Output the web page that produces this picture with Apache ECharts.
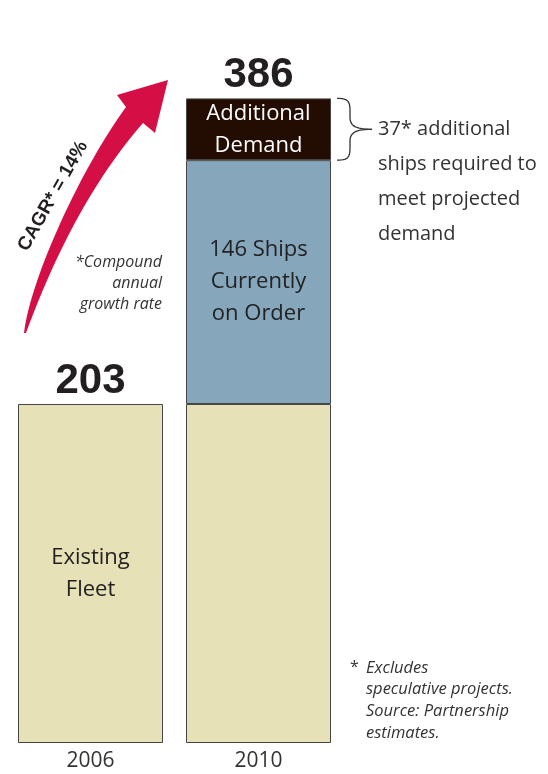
<!DOCTYPE html>
<html>
<head>
<meta charset="utf-8">
<script src="https://cdn.jsdelivr.net/npm/echarts@6/dist/echarts.min.js"></script>
<style>
html,body{margin:0;padding:0;background:#fff;}
#c{width:548px;height:774px;}
</style>
</head>
<body>
<div id="c"></div>
<script>
// ---- data ----
var categories = ['2006', '2010'];
var existingFleet = [203, 203];
var onOrder = [null, 146];
var additionalDemand = [null, 37];
var existingLabels = ['Existing\nFleet', ''];
var cagrText = 'CAGR* = 14%';
var cagrNote = '*Compound\nannual\ngrowth rate';
var braceNote = '37* additional\nships required to\nmeet projected\ndemand';
var footNote = 'Excludes\nspeculative projects.\nSource: Partnership\nestimates.';

var totals = categories.map(function (c, i) {
  return (existingFleet[i] || 0) + (onOrder[i] || 0) + (additionalDemand[i] || 0);
});

var FONT = '"Open Sans", "Noto Sans", sans-serif';
var chart = echarts.init(document.getElementById('c'), null, {renderer: 'canvas'});

var border = {borderColor: '#454545', borderWidth: 1};

var option = {
  animation: false,
  backgroundColor: '#ffffff',
  grid: {left: 6.5, right: 205.5, top: 41.6, bottom: 31},
  xAxis: {
    type: 'category',
    data: categories,
    axisLine: {show: false},
    axisTick: {show: false},
    axisLabel: {color: '#333', fontSize: 21, fontFamily: FONT, margin: 8}
  },
  yAxis: {
    type: 'value', min: 0, max: 420,
    show: false, splitLine: {show: false}
  },
  series: [
    {
      name: 'Existing Fleet', type: 'bar', stack: 'a', barWidth: 145,
      data: existingFleet,
      itemStyle: Object.assign({color: '#E6E1B7'}, border),
      label: {
        show: true, position: 'inside', color: '#222', fontSize: 22, lineHeight: 32,
        fontFamily: FONT,
        formatter: function (p) { return existingLabels[p.dataIndex]; }
      }
    },
    {
      name: 'On Order', type: 'bar', stack: 'a', barWidth: 145,
      data: onOrder,
      itemStyle: Object.assign({color: '#86A6BB'}, border),
      label: {
        show: true, position: 'inside', color: '#222', fontSize: 22, lineHeight: 32,
        fontFamily: FONT,
        formatter: function (p) { return p.value + ' Ships\nCurrently\non Order'; }
      }
    },
    {
      name: 'Additional Demand', type: 'bar', stack: 'a', barWidth: 145,
      data: additionalDemand,
      itemStyle: Object.assign({color: '#230D02'}, border),
      label: {
        show: true, position: 'inside', color: '#fff', fontSize: 22, lineHeight: 32,
        fontFamily: FONT,
        formatter: 'Additional\nDemand'
      }
    },
    {
      name: 'Total', type: 'scatter', symbolSize: 0,
      data: totals,
      z: 10,
      itemStyle: {opacity: 1},
      label: {
        show: true, position: 'top', distance: 2,
        color: '#231f20', fontSize: 42, fontWeight: 'bold', lineHeight: 42,
        fontFamily: 'Arial, "Liberation Sans", sans-serif',
        formatter: function (p) { return String(p.value); }
      }
    }
  ]
};
chart.setOption(option);

// bezier sampling helpers for decorations
function quad(p0, c, p1, n) {
  var pts = [];
  for (var k = 0; k <= n; k++) {
    var t = k / n, u = 1 - t;
    pts.push([u * u * p0[0] + 2 * u * t * c[0] + t * t * p1[0],
              u * u * p0[1] + 2 * u * t * c[1] + t * t * p1[1]]);
  }
  return pts;
}
function cubic(p0, c1, c2, p1, n) {
  var pts = [];
  for (var k = 0; k <= n; k++) {
    var t = k / n, u = 1 - t;
    pts.push([u*u*u*p0[0] + 3*u*u*t*c1[0] + 3*u*t*t*c2[0] + t*t*t*p1[0],
              u*u*u*p0[1] + 3*u*u*t*c1[1] + 3*u*t*t*c2[1] + t*t*t*p1[1]]);
  }
  return pts;
}

// arrow outline
var arrowPts = cubic([24, 333], [30, 280], [80, 170], [126, 107], 30)
  .concat([[117, 95], [168, 80], [155, 133]])
  .concat(quad([143, 123], [74, 202], [26, 333], 30));

// brace positioned from the data through the chart's scales
var i2 = 1;
var topPx = chart.convertToPixel({gridIndex: 0}, [i2, totals[i2]]);
var segBottom = chart.convertToPixel({gridIndex: 0}, [i2, totals[i2] - additionalDemand[i2]]);
var yT = topPx[1], yB = segBottom[1], yM = (yT + yB) / 2;
var x0 = topPx[0] + 145 / 2 + 6;
var bx = x0 + 13, tipX = x0 + 35;
var r = Math.min(12, (yB - yT) / 4);
var braceTop = cubic([x0, yT], [x0 + 10, yT], [bx, yT + 2], [bx, yT + r], 12)
  .concat([[bx, yM - r]])
  .concat(cubic([bx, yM - r], [bx, yM - 3], [bx + 6, yM], [tipX, yM], 12));
var braceBottom = cubic([tipX, yM], [bx + 6, yM], [bx, yM + 3], [bx, yM + r], 12)
  .concat([[bx, yB - r]])
  .concat(cubic([bx, yB - r], [bx, yB - 2], [x0 + 10, yB], [x0, yB], 12));

chart.setOption({
  graphic: [
    {
      type: 'polygon', z: 5,
      shape: {points: arrowPts},
      style: {fill: '#D30F45'}
    },
    {
      type: 'text', x: 53, y: 196, rotation: 60.6 * Math.PI / 180, z: 6,
      style: {
        text: cagrText, fill: '#231f20', font: 'bold 19px Arial, "Liberation Sans", sans-serif',
        align: 'center', verticalAlign: 'middle'
      }
    },
    {
      type: 'text', x: 162, y: 251.5, z: 6,
      style: {
        text: cagrNote, fill: '#333', fontFamily: FONT, fontSize: 16, fontStyle: 'italic',
        lineHeight: 21, align: 'right', verticalAlign: 'top'
      }
    },
    {
      type: 'polyline', z: 6,
      shape: {points: braceTop},
      style: {fill: null, stroke: '#333', lineWidth: 1.3}
    },
    {
      type: 'polyline', z: 6,
      shape: {points: braceBottom},
      style: {fill: null, stroke: '#333', lineWidth: 1.3}
    },
    {
      type: 'text', x: tipX + 6, y: yM - 17.5, z: 6,
      style: {
        text: braceNote, fill: '#333', fontFamily: FONT, fontSize: 20,
        lineHeight: 35, align: 'left', verticalAlign: 'top'
      }
    },
    {
      type: 'text', x: 350, y: 657, z: 6,
      style: {text: '*', fill: '#333', fontFamily: FONT, fontSize: 16, lineHeight: 21.7, align: 'left', verticalAlign: 'top'}
    },
    {
      type: 'text', x: 366, y: 657, z: 6,
      style: {
        text: footNote, fill: '#333', fontFamily: FONT, fontSize: 16.5, fontStyle: 'italic',
        lineHeight: 21.7, align: 'left', verticalAlign: 'top'
      }
    }
  ]
});
</script>
</body>
</html>
